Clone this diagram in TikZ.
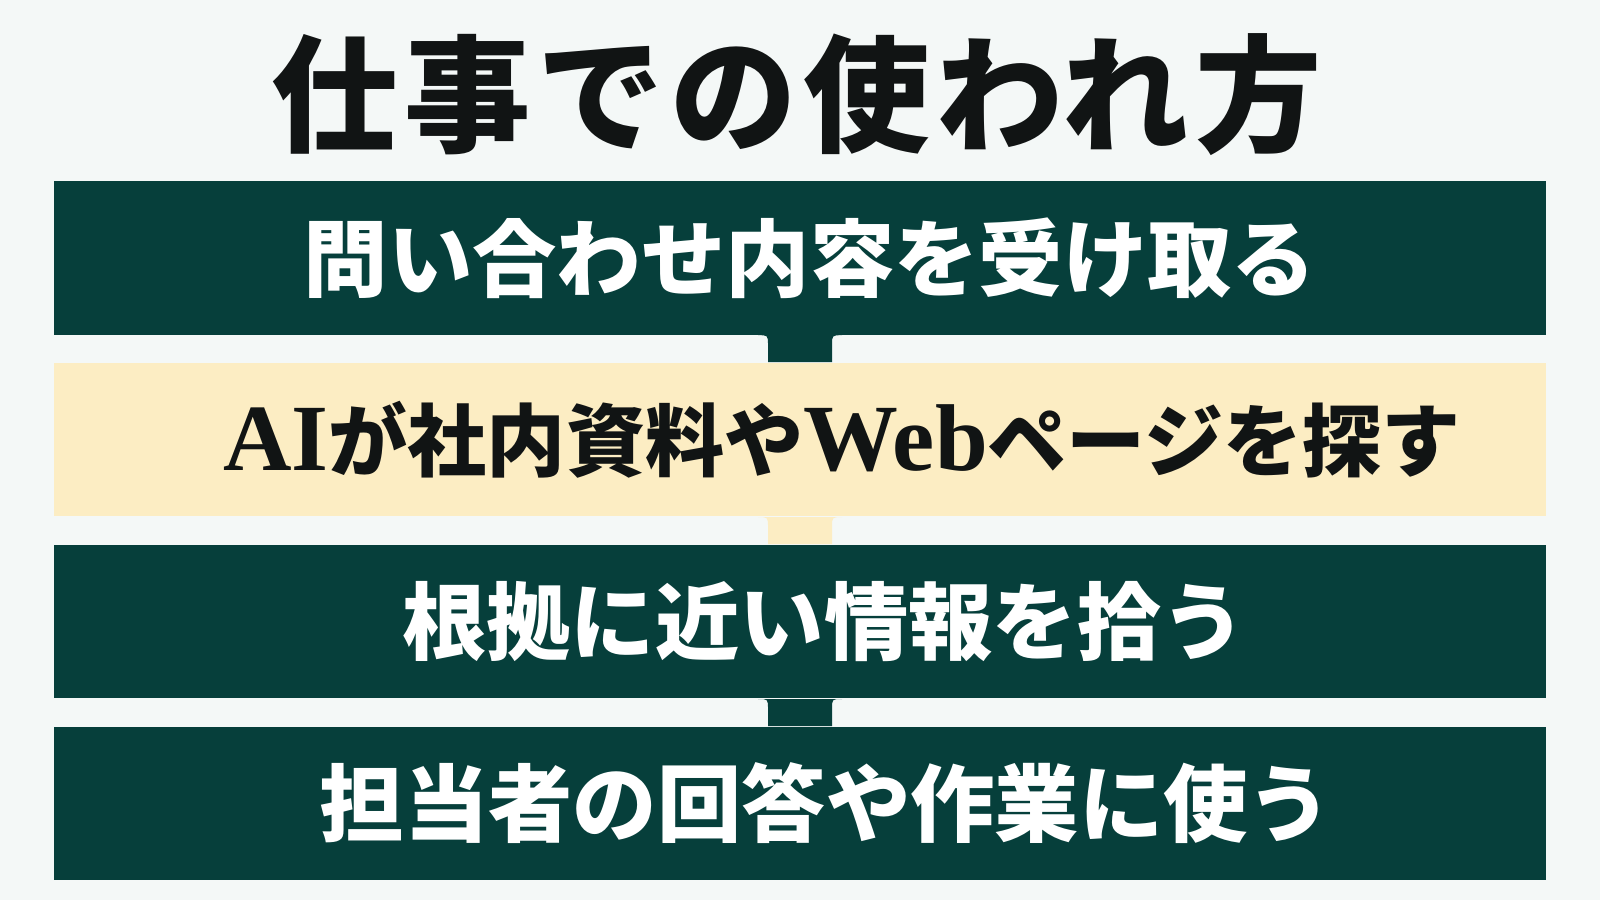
\documentclass[tikz,border=0pt]{standalone}
\usepackage{fontspec}
\usetikzlibrary{positioning}
\setmainfont{Liberation Serif}
\newfontfamily\jpfont{Noto Sans CJK JP}
\definecolor{deepgreen}{HTML}{063F3B}
\definecolor{cream}{HTML}{FCEDC3}
\definecolor{paper}{HTML}{F4F8F7}
\definecolor{ink}{HTML}{111414}
\newcommand{\tabjoin}[3]{%
  \fill[#3]([xshift=-0.42cm]#1.south)..controls([xshift=-0.32cm]#1.south)..([xshift=-0.32cm,yshift=-0.10cm]#1.south)
    --([xshift=-0.32cm]#2.north)--([xshift=0.32cm]#2.north)
    --([xshift=0.32cm,yshift=-0.10cm]#1.south)..controls([xshift=0.32cm]#1.south)..([xshift=0.42cm]#1.south)--cycle;}
\begin{document}
\begin{tikzpicture}[node distance=0.27cm,
    stepbar/.style={minimum width=14.92cm,minimum height=1.535cm,inner sep=0pt,fill=#1},
    steptext/.style={text=#1,font=\jpfont\bfseries\fontsize{24}{28}\selectfont,inner sep=0pt}]
    \fill[paper](0,0)rectangle(16,9);
    \node[text=ink,font=\jpfont\bfseries\fontsize{36}{40}\selectfont\addfontfeatures{LetterSpace=5},inner sep=0pt](title)at(7.97,8.05){仕事での使われ方};
    \node[stepbar=deepgreen](b1)at(8,6.4225){};
    \node[stepbar=cream,below=of b1](b2){};
    \node[stepbar=deepgreen,below=of b2](b3){};
    \node[stepbar=deepgreen,below=of b3](b4){};
    \tabjoin{b1}{b2}{deepgreen}
    \tabjoin{b2}{b3}{cream}
    \tabjoin{b3}{b4}{deepgreen}
    \node[steptext=white](t1)at([xshift=0.10cm]b1.center){問い合わせ内容を受け取る};
    \node[steptext=ink,font=\jpfont\bfseries\fontsize{22.5}{28}\selectfont](t2)at([xshift=0.42cm]b2.center){{\rmfamily\fontsize{27}{28}\selectfont AI}が社内資料や{\rmfamily\fontsize{27}{28}\selectfont Web}ページを探す};
    \node[steptext=white](t3)at([xshift=0.24cm]b3.center){根拠に近い情報を拾う};
    \node[steptext=white](t4)at([xshift=0.26cm]b4.center){担当者の回答や作業に使う};
\end{tikzpicture}
\end{document}
